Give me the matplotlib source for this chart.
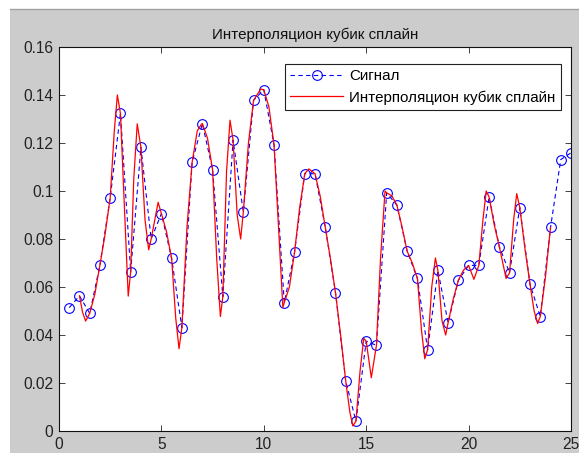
import matplotlib
matplotlib.use("Agg")
import matplotlib.pyplot as plt
from matplotlib.ticker import FuncFormatter, MultipleLocator
from matplotlib.patches import Rectangle
from matplotlib.lines import Line2D

plt.rcParams['font.family'] = ['Liberation Sans', 'DejaVu Sans']

# Signal samples (blue markers)
signal_x = [0.5, 1.0, 1.5, 2.0, 2.5, 3.0, 3.5, 4.0, 4.5, 5.0,
            5.5, 6.0, 6.5, 7.0, 7.5, 8.0, 8.5, 9.0, 9.5, 10.0,
            10.5, 11.0, 11.5, 12.0, 12.5, 13.0, 13.5, 14.0, 14.5, 15.0,
            15.5, 16.0, 16.5, 17.0, 17.5, 18.0, 18.5, 19.0, 19.5, 20.0,
            20.5, 21.0, 21.5, 22.0, 22.5, 23.0, 23.5, 24.0, 24.5, 25.0]
signal_y = [0.0514, 0.0563, 0.0490, 0.0692, 0.0972, 0.1323, 0.0664, 0.1182, 0.0800, 0.0906,
            0.0719, 0.0431, 0.1120, 0.1281, 0.1088, 0.0560, 0.1212, 0.0912, 0.1378, 0.1422,
            0.1192, 0.0535, 0.0744, 0.1072, 0.1072, 0.0850, 0.0577, 0.0208, 0.0041, 0.0374,
            0.0357, 0.0992, 0.0941, 0.0749, 0.0636, 0.0339, 0.0669, 0.0451, 0.0628, 0.0690,
            0.0690, 0.0975, 0.0768, 0.0659, 0.0931, 0.0611, 0.0477, 0.0848, 0.1131, 0.1159]

# Cubic spline curve (red)
spline_x = [1.0, 1.15, 1.30, 1.5, 1.75, 2.0, 2.25, 2.5, 2.7, 2.85, 3.0, 3.2, 3.38, 3.5, 3.65, 3.82, 4.0,
            4.2, 4.38, 4.5, 4.84, 5.0, 5.25, 5.5, 5.7, 5.86, 6.0, 6.25, 6.5, 6.75, 6.95, 7.0, 7.25, 7.5,
            7.7, 7.88, 8.0, 8.18, 8.35, 8.5, 8.7, 8.87, 9.0, 9.25, 9.5, 9.85, 10.0, 10.25, 10.5, 10.75,
            10.93, 11.0, 11.25, 11.5, 11.75, 12.0, 12.2, 12.5, 12.75, 13.0, 13.25, 13.5, 13.75, 14.0,
            14.2, 14.35, 14.5, 14.7, 14.88, 15.0, 15.25, 15.5, 15.7, 15.92, 16.0, 16.25, 16.5, 16.75,
            17.0, 17.25, 17.5, 17.7, 17.86, 18.0, 18.2, 18.38, 18.5, 18.7, 18.88, 19.0, 19.25, 19.5,
            19.75, 20.0, 20.26, 20.5, 20.7, 20.86, 21.0, 21.25, 21.5, 21.83, 22.0, 22.2, 22.35, 22.5,
            22.75, 23.0, 23.2, 23.37, 23.5, 23.75, 24.0]
spline_y = [0.0563, 0.0495, 0.0458, 0.0490, 0.0570, 0.0692, 0.0820, 0.0972, 0.1250, 0.1400, 0.1323, 0.0920, 0.0562, 0.0664, 0.1050, 0.1280, 0.1182,
            0.0880, 0.0755, 0.0800, 0.0953, 0.0906, 0.0830, 0.0719, 0.0470, 0.0343, 0.0431, 0.0850, 0.1120, 0.1250, 0.1278, 0.1281, 0.1220, 0.1088,
            0.0720, 0.0477, 0.0560, 0.1080, 0.1295, 0.1212, 0.0900, 0.0800, 0.0912, 0.1200, 0.1378, 0.1425, 0.1422, 0.1350, 0.1192, 0.0800,
            0.0515, 0.0535, 0.0600, 0.0744, 0.0930, 0.1072, 0.1092, 0.1072, 0.0980, 0.0850, 0.0720, 0.0577, 0.0400, 0.0208,
            0.0080, 0.0021, 0.0041, 0.0250, 0.0386, 0.0374, 0.0222, 0.0357, 0.0720, 0.1000, 0.0992, 0.0980, 0.0941, 0.0850,
            0.0749, 0.0700, 0.0636, 0.0420, 0.0301, 0.0339, 0.0600, 0.0721, 0.0669, 0.0460, 0.0400, 0.0451, 0.0550, 0.0628,
            0.0670, 0.0690, 0.0632, 0.0690, 0.0880, 0.1000, 0.0975, 0.0860, 0.0768, 0.0636, 0.0659, 0.0880, 0.0989, 0.0931,
            0.0760, 0.0611, 0.0500, 0.0448, 0.0477, 0.0640, 0.0848]

title_text = "Интерполяцион кубик сплайн"
legend_labels = ["Сигнал", "Интерполяцион кубик сплайн"]
x_ticks = [0, 5, 10, 15, 20, 25]

W, H = 579, 453
fig = plt.figure(figsize=(W / 100, H / 100), dpi=100, facecolor='white')

# grey MATLAB figure panel
fig.patches.append(Rectangle((10 / W, 0), 1 - 10 / W, (H - 8.5) / H, transform=fig.transFigure,
                             facecolor='#cccccc', edgecolor='none', zorder=-10))
fig.add_artist(Line2D([10 / W, 1], [(H - 8.5) / H, (H - 8.5) / H], transform=fig.transFigure,
                      color='#a0a0a0', lw=1.0))

ax = fig.add_axes([59 / W, (H - 431) / H, (571 - 59) / W, (431 - 47) / H])
ax.set_facecolor('white')

ax.plot(signal_x, signal_y, color='#0000ff', linestyle='--', dashes=(4, 3), lw=0.8,
        marker='o', markersize=7, markerfacecolor='none', markeredgecolor='#0000ff',
        markeredgewidth=0.8, label=legend_labels[0])
ax.plot(spline_x, spline_y, color='#ff0000', lw=0.9, label=legend_labels[1])

ax.set_xlim(0, 25)
ax.set_ylim(0, 0.16)
ax.set_xticks(x_ticks)
ax.yaxis.set_major_locator(MultipleLocator(0.02))
ax.yaxis.set_major_formatter(FuncFormatter(lambda v, p: ('%g' % round(v, 4))))
ax.tick_params(direction='in', top=True, right=True, length=4, width=0.6,
               labelsize=11.2, pad=4, colors='#222222')
for s in ax.spines.values():
    s.set_linewidth(0.8)
    s.set_color('#111111')

ax.set_title(title_text, fontsize=10.9, pad=6, color='#111111')

leg = ax.legend(loc='upper right', bbox_to_anchor=(561 / W, 1 - 64 / H), bbox_transform=fig.transFigure,
                borderaxespad=0, fontsize=10.9, handlelength=3.5, handletextpad=0.4,
                labelspacing=0.45, borderpad=0.35, fancybox=False, framealpha=1)
leg.get_frame().set_edgecolor('#222222')
leg.get_frame().set_linewidth(0.8)

fig.savefig('out.png', dpi=100, facecolor=fig.get_facecolor())
